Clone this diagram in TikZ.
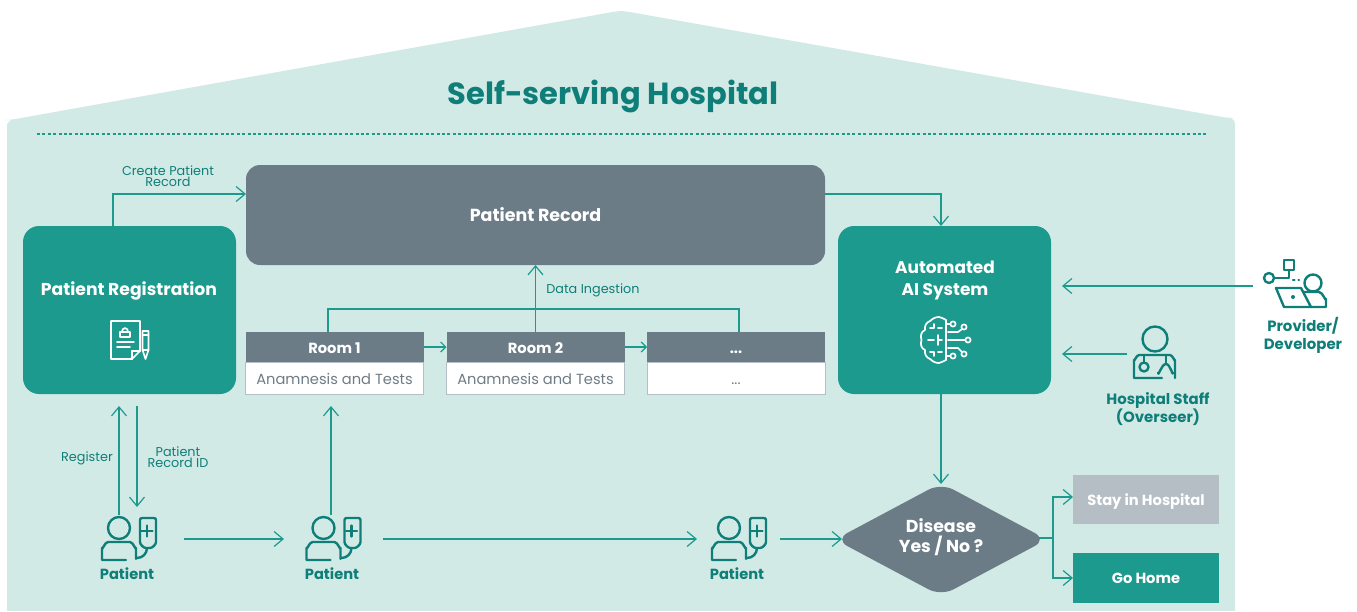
\documentclass[tikz,border=0pt]{standalone}
\usepackage{fontspec}
\setmainfont{Poppins}
\usetikzlibrary{arrows.meta,shapes.geometric}
\newdimen\pxu \pxu=0.75pt
\definecolor{bgc}{HTML}{D2EAE6}
\definecolor{tealc}{HTML}{1C9A8E}
\definecolor{darkt}{HTML}{0F7E78}
\definecolor{grayc}{HTML}{6C7C87}
\definecolor{lgray}{HTML}{B5BEC5}
\definecolor{txtg}{HTML}{6F7C85}
\tikzset{
  x=0.75pt,y=-0.75pt,
  arr/.style={draw=tealc,line width=1.3\pxu,-{Straight Barb[length=6.75pt,width=11.25pt,line width=0.9pt]}},
  arrs/.style={draw=tealc,line width=1.3\pxu,-{Straight Barb[length=3.75pt,width=7.5pt,line width=0.9pt]}},
  lin/.style={draw=tealc,line width=1.3\pxu},
  bigbox/.style={rectangle,rounded corners=14\pxu,inner sep=0pt,outer sep=0pt,text=white,align=center,text height=9pt,text depth=0pt,font=\fontsize{13.1}{16.5}\selectfont\bfseries},
  flat/.style={rectangle,inner sep=0pt,outer sep=0pt,align=center},
  roomhead/.style={flat,fill=grayc,text=white,minimum width=178\pxu,minimum height=30\pxu,text height=9.2pt,text depth=0pt,font=\fontsize{11}{12}\selectfont\bfseries},
  roombody/.style={flat,fill=white,draw=lgray,line width=1\pxu,text=txtg,minimum width=178\pxu,minimum height=32\pxu,text height=9.2pt,text depth=0pt,font=\fontsize{11}{12}\selectfont},
  flatlabel/.style={text height=8.4pt,text depth=0pt,font=\fontsize{11}{12}\selectfont\bfseries},
  clabel/.style={text=darkt,align=center,inner sep=0pt,font=\fontsize{9.6}{8.3}\selectfont},
  actor/.style={text=darkt,align=center,inner sep=0pt,font=\fontsize{11}{13.5}\selectfont\bfseries},
  iconbox/.style={rectangle,inner sep=0pt,outer sep=0pt,minimum width=58\pxu,minimum height=46\pxu},
  ico/.style={draw=darkt,line width=2.4\pxu,line cap=round,line join=round,rounded corners=0pt},
  wico/.style={draw=white,line width=1.7\pxu,line cap=round,line join=round},
  patienticon/.pic={
    \draw[ico] (0,0) circle (11);
    \draw[ico] (7,32) -- (-17,32) -- (-17,20) to[out=-90,in=180] (-11,14) -- (11,14) to[out=0,in=-90] (17,20) -- (17,31);
    \draw[ico,rounded corners=2\pxu] (21,-10) -- (37,-10) -- (37,12) to[out=-90,in=0] (29,20) to[out=180,in=-90] (21,12) -- cycle;
    \draw[ico] (28,20) to[out=-90,in=0] (18,30);
    \draw[ico] (22.5,3) -- (33.5,3) (28,-2.5) -- (28,8.5);
  },
}
\begin{document}
\begin{tikzpicture}
\useasboundingbox (0,0) rectangle (1357,611);
% house
\fill[bgc,rounded corners=6\pxu] (7,120) -- (7,130) -- (7,625) -- (1235,625) -- (1235,118) -- (1228,118) -- (624,11) -- (618,11) -- (10,120) -- cycle;
\fill[white] (0,611) rectangle (1357,630);
\node[text=darkt,inner sep=0pt,font=\fontsize{22.9}{28}\selectfont\bfseries] (title) at (613,96) {Self-serving Hospital};
\coordinate (dl) at (37,134);
\coordinate (dr) at (1206,134);
\draw[tealc,line width=1.3\pxu,dash pattern=on 3\pxu off 2.4\pxu] (dl) -- (dr);
% boxes
\node[bigbox,fill=grayc,minimum width=579\pxu,minimum height=100\pxu] (rec) at (535.5,215) {Patient Record};
\node[bigbox,fill=tealc,minimum width=213\pxu,minimum height=168\pxu,rounded corners=16\pxu] (reg) at (129.5,310) {};
\node[text=white,inner sep=0pt,font=\fontsize{12.9}{16.5}\selectfont\bfseries] (regt) at (129,291) {Patient Registration};
\node[bigbox,fill=tealc,minimum width=213\pxu,minimum height=168\pxu,rounded corners=16\pxu] (ai) at (944.5,310) {};
\node[text=white,inner sep=0pt,align=center,font=\fontsize{12.7}{16.5}\selectfont\bfseries] (ait) at (945,280) {Automated\\AI System};
% rooms
\node[roomhead] (r1h) at (334.5,347) {Room 1};
\node[roombody] (r1b) at (334.5,378) {Anamnesis and Tests};
\node[roomhead] (r2h) at (535.5,347) {Room 2};
\node[roombody] (r2b) at (535.5,378) {Anamnesis and Tests};
\node[roomhead] (r3h) at (736,347) {...};
\node[roombody] (r3b) at (736,378) {...};
% decision
\node[diamond,fill=grayc,rounded corners=14\pxu,inner sep=0pt,outer sep=0pt,minimum width=212\pxu,minimum height=113\pxu,aspect=1.88,text=white] (dis) at (941,539.5) {};
\node[text=white,inner sep=0pt,align=center,font=\fontsize{13}{15}\selectfont\bfseries] (dist) at (941,537.5) {Disease\\Yes / No ?};
\node[flat,flatlabel,fill=lgray,text=white,minimum width=146\pxu,minimum height=49\pxu] (stay) at (1146,499.5) {Stay in Hospital};
\node[flat,flatlabel,fill=tealc,text=white,minimum width=146\pxu,minimum height=50\pxu] (home) at (1146,578) {Go Home};
% actors
\node[iconbox] (p1) at (129,539) {};
\node[iconbox] (p2) at (334,539) {};
\node[iconbox] (p3) at (739,539) {};
\pic at (119,528) {patienticon};
\pic at (323.5,528) {patienticon};
\pic at (729,528) {patienticon};
\node[actor] (p1t) at (127,574) {Patient};
\node[actor] (p2t) at (332,574) {Patient};
\node[actor] (p3t) at (737,574) {Patient};
\node[iconbox,minimum width=66\pxu,minimum height=50\pxu] (prov) at (1298,284) {};
\node[iconbox,minimum width=44\pxu,minimum height=54\pxu] (staff) at (1155,353) {};
\node[actor,font=\fontsize{11.2}{13.5}\selectfont\bfseries] (provt) at (1303,335) {Provider/\\Developer};
\node[actor,font=\fontsize{11.2}{13.5}\selectfont\bfseries] (stafft) at (1158,409) {Hospital Staff\\(Overseer)};
% provider icon
\draw[ico] (1284,260) rectangle (1294,270);
\draw[ico] (1289,270) -- (1289,278) -- (1274,278);
\draw[ico] (1269,278) circle (5);
\draw[ico,dash pattern=on 1.5\pxu off 4\pxu] (1293,280) -- (1299,280);
\draw[ico] (1313,283) circle (8.5);
\draw[ico] (1276,288) -- (1301,288) -- (1311,307) -- (1284,307) -- cycle;
\fill[darkt] (1293,297) circle (2);
\draw[ico] (1304,292) -- (1319,292) to[out=0,in=-90] (1326,299) -- (1326,307) -- (1311,307);
% staff icon
\begin{scope}[xshift=-1\pxu]
\draw[ico] (1156,339) circle (12.5);
\draw[ico] (1163,378) -- (1135,378) -- (1135,360) to[out=-90,in=180] (1140,355) -- (1171,355) to[out=0,in=-90] (1176,360) -- (1176,378);
\draw[ico] (1145,355) -- (1145,362);
\draw[ico] (1145,367) circle (4.5);
\draw[ico] (1167,355) -- (1167,363);
\draw[ico] (1159,373) to[out=-90,in=180] (1167,364) to[out=0,in=-90] (1174,373);
\end{scope}
% document icon
\draw[wico] (132,359) -- (111,359) -- (111,321) -- (140,321) -- (140,351) -- cycle;
\draw[wico] (132,359) -- (132,351) -- (140,351);
\draw[wico] (120,332) rectangle (130,337);
\draw[wico] (122,332) to[out=90,in=180] (125,328) to[out=0,in=90] (128,332);
\draw[wico] (117,342) -- (134,342) (117,347) -- (130,347);
\draw[wico] (142.5,331) -- (148.5,331) -- (148.5,350) -- (145.5,359) -- (142.5,350) -- cycle;
\draw[wico] (142.5,335) -- (148.5,335) (142.5,350) -- (148.5,350);
% brain icon
\draw[wico] (946,320) to[out=170,in=10] (939,317) to[out=180,in=40] (930,321) to[out=200,in=100] (925,330) to[out=200,in=110] (921.5,340) to[out=-110,in=160] (925,350) to[out=-100,in=160] (930,359) to[out=-40,in=180] (939,363) to[out=0,in=-170] (946,360);
\draw[wico] (946,320) -- (946,360);
\draw[wico] (946,324) -- (950,324) (948,332) -- (958,332) -- (962,329) (948,340) -- (965,340) (948,348) -- (958,348) -- (962,352) (946,356) -- (950,356);
\draw[wico] (953,324) circle (2.6) (964,327) circle (2.6) (968,340) circle (2.6) (964,354) circle (2.6) (953,356) circle (2.6);
\draw[wico] (934,324) -- (934,328) -- (930,328) (942,328) -- (938,328) (928,340) -- (934,340) (938,335) -- (938,345) (942,340) -- (938,340) (934,352) -- (934,356) (934,352) -- (930,352) (942,352) -- (938,352);
% connectors
\coordinate (xa) at (113,0);
\coordinate (ya) at (0,194);
\coordinate (xb) at (941,0);
\coordinate (xc) at (119,0);
\coordinate (xd) at (137,0);
\coordinate (xe) at (331,0);
\coordinate (xf) at (328,0);
\coordinate (xg) at (739,0);
\coordinate (yf) at (0,309);
\coordinate (jn) at (1053,538);
\coordinate (yst) at (0,497);
\coordinate (yp) at (0,286);
\coordinate (ys) at (0,354);
\coordinate (xk) at (1062,0);
\draw[arr] (reg.north -| xa) -- (xa |- ya) -- (rec.west |- ya);
\draw[arr] (rec.east |- ya) -- (xb |- ya) -- (ai.north -| xb);
\draw[arrs] (r1h) -- (r2h);
\draw[arrs] (r2h) -- (r3h);
\draw[lin] (r1h.north -| xf) -- (xf |- yf) -- (xg |- yf) -- (r3h.north -| xg);
\draw[arr] (r2h.north) -- (rec.south -| r2h.north);
\draw[arr,shorten >=12\pxu,shorten <=1\pxu] (p1.north -| xc) -- (reg.south -| xc);
\draw[arr,shorten <=12\pxu,shorten >=9\pxu] (reg.south -| xd) -- (p1.north -| xd);
\draw[arr,shorten <=26\pxu,shorten >=21\pxu] (p1.east) -- (p2.west);
\draw[arr,shorten <=1\pxu,shorten >=12\pxu] (p2.north -| xe) -- (r1b.south -| xe);
\draw[arr,shorten <=20\pxu,shorten >=13\pxu] (p2.east) -- (p3.west);
\draw[arr,shorten <=12\pxu,shorten >=-7\pxu] (p3.east) -- (dis.west |- p3.east);
\draw[arr,shorten >=-1\pxu] (ai.south -| xb) -- (dis.north -| xb);
\draw[arr,shorten <=-8\pxu] (dis.east |- jn) -- (jn) |- (stay.west |- yst);
\draw[arr,shorten <=-8\pxu] (dis.east |- jn) -- (jn) |- (home.west);
\draw[arr,shorten <=12\pxu] (prov.west |- yp) -- (xk |- yp);
\draw[arr,shorten <=6\pxu] (staff.west |- ys) -- (xk |- ys);
% labels
\node[clabel] (l1) at (168,176.5) {Create Patient\\Record};
\node[clabel] (l2) at (593,290) {Data Ingestion};
\node[clabel] (l3) at (87,458) {Register};
\node[clabel] (l4) at (178,457.5) {Patient\\Record ID};
\end{tikzpicture}
\end{document}
